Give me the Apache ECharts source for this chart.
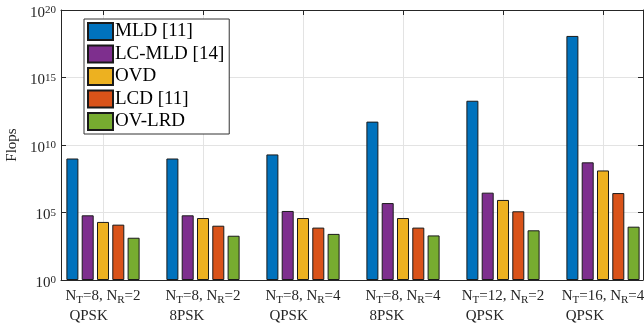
<!DOCTYPE html>
<html><head><meta charset="utf-8">
<script src="https://cdn.jsdelivr.net/npm/echarts@6/dist/echarts.min.js"></script>
<style>html,body{margin:0;padding:0;background:#fff}#c{width:644px;height:328px}</style>
</head><body><div id="c"></div><script>
const seriesNames = ['MLD [11]', 'LC-MLD [14]', 'OVD', 'LCD [11]', 'OV-LRD'];
const ntValues = ['8', '8', '8', '8', '12', '16'];
const nrValues = ['2', '2', '4', '4', '2', '4'];
const modulations = ['QPSK', '8PSK', 'QPSK', '8PSK', 'QPSK', 'QPSK'];
const mld   = [1.0e9, 1.0e9, 2.0e9, 5.4e11, 1.9e13, 1.2e18];
const lcMld = [6.2e4, 6.2e4, 1.3e5, 5.0e5, 2.95e6, 5.2e8];
const ovd   = [2.0e4, 3.9e4, 3.9e4, 3.9e4, 8.5e5, 1.3e8];
const lcd   = [1.26e4, 1.05e4, 7.6e3, 7.6e3, 1.23e5, 2.75e6];
const ovLrd = [1.35e3, 1.9e3, 2.6e3, 2.0e3, 4.8e3, 8.9e3];

const allSeries = [mld, lcMld, ovd, lcd, ovLrd];
const categories = ntValues.map((nt, i) => 'NT=' + nt + ', NR=' + nrValues[i] + ' ' + modulations[i]);
const colors = ['#0072BD', '#7E2F8E', '#EDB120', '#D95319', '#77AC30'];
const ff = '"Liberation Serif", "Times New Roman", serif';
const axisColor = '#262626';
const gridColor = '#e3e3e3';

const chart = echarts.init(document.getElementById('c'), null, {renderer: 'canvas'});
const frameX = {
  type: 'value', gridIndex: 1, min: 0.58, max: 6.4,
  axisLine: {show: true, onZero: false, lineStyle: {color: axisColor, width: 1}},
  axisTick: {show: true, inside: true, length: 5, lineStyle: {color: axisColor}},
  axisLabel: {show: false},
  splitLine: {show: false}
};
const frameY = {
  type: 'log', gridIndex: 1, logBase: 10, min: 1, max: 1e20, interval: 5,
  axisLine: {show: true, lineStyle: {color: axisColor, width: 1}},
  axisTick: {show: true, inside: true, length: 5, lineStyle: {color: axisColor}},
  axisLabel: {show: false},
  splitLine: {show: false}
};
chart.setOption({
  backgroundColor: '#fff',
  animation: false,
  grid: [
    {left: 53, top: 10, width: 600, height: 270, containLabel: false, outerBoundsMode: 'none'},
    {left: 61, top: 10, width: 582, height: 270, containLabel: false, outerBoundsMode: 'none'}
  ],
  legend: {
    orient: 'vertical', left: 84, top: 19,
    data: seriesNames,
    itemWidth: 25, itemHeight: 17, itemGap: 3.5,
    padding: [3, 5, 3, 3],
    backgroundColor: '#fff', borderColor: '#333', borderWidth: 1,
    textStyle: {fontFamily: ff, fontSize: 19, color: '#000', padding: [0, 0, 0, -3]},
    icon: 'rect'
  },
  xAxis: [
    {
      type: 'category', gridIndex: 0, data: categories, boundaryGap: true,
      axisLine: {show: false}, axisTick: {show: false}, splitLine: {show: false},
      axisLabel: {
        show: true, interval: 0, margin: 6, hideOverlap: false,
        formatter: function (v, i) {
          return '{n|N}{s|T}{n|=' + ntValues[i] + ', N}{s|R}{n|=' + nrValues[i] + '}\n{m|' + modulations[i] + '}';
        },
        rich: {
          n: {fontFamily: ff, fontSize: 15, lineHeight: 20, color: axisColor},
          s: {fontFamily: ff, fontSize: 11, lineHeight: 8, verticalAlign: 'bottom', color: axisColor},
          m: {fontFamily: ff, fontSize: 15, lineHeight: 21, color: axisColor, align: 'left', padding: [0, 0, 0, 4]}
        }
      }
    },
    Object.assign({}, frameX, {position: 'bottom', splitLine: {show: true, lineStyle: {color: gridColor, width: 1}}}),
    Object.assign({}, frameX, {position: 'top'})
  ],
  yAxis: [
    {
      type: 'log', gridIndex: 0, logBase: 10, min: 1, max: 1e20, interval: 5,
      axisLine: {show: false}, axisTick: {show: false}, axisLabel: {show: false}, splitLine: {show: false}
    },
    Object.assign({}, frameY, {
      position: 'left',
      name: 'Flops', nameLocation: 'middle', nameRotate: 90, nameGap: 39,
      nameTextStyle: {fontFamily: ff, fontSize: 15, color: axisColor},
      splitLine: {show: true, lineStyle: {color: gridColor, width: 1}},
      axisLabel: {
        show: true, margin: 5, padding: [6, 0, 0, 0],
        formatter: function (v) {
          const e = Math.round(Math.log10(v));
          return '{b|10}{p|' + e + '}';
        },
        rich: {
          b: {fontFamily: ff, fontSize: 15, lineHeight: 16, color: axisColor},
          p: {fontFamily: ff, fontSize: 11, lineHeight: 2, verticalAlign: 'top', color: axisColor}
        }
      }
    }),
    Object.assign({}, frameY, {position: 'right'})
  ],
  series: allSeries.map((vals, s) => ({
    name: seriesNames[s],
    type: 'bar',
    xAxisIndex: 0, yAxisIndex: 0,
    barWidth: 12,
    barGap: '27.5%',
    z: 3,
    itemStyle: {color: colors[s], borderColor: '#1a1a1a', borderWidth: 1},
    data: vals
  }))
});
</script></body></html>
